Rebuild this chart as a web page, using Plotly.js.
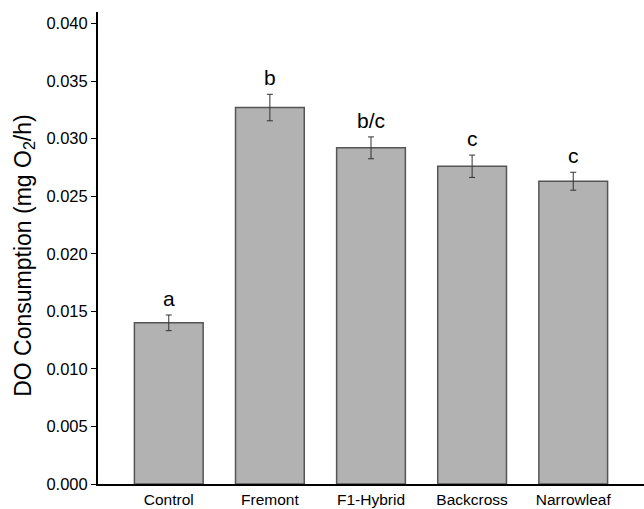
<!DOCTYPE html>
<html>
<head>
<meta charset="utf-8">
<script src="https://cdn.plot.ly/plotly-3.0.1.min.js"></script>
<style>html,body{margin:0;padding:0;background:#fff;}#chart{width:644px;height:509px;}</style>
</head>
<body>
<div id="chart"></div>
<script>
const categories = ["Control", "Fremont", "F1-Hybrid", "Backcross", "Narrowleaf"];
const consumption = [0.0140, 0.0327, 0.0292, 0.0276, 0.0263];
const stdErr = [0.00068, 0.00115, 0.00095, 0.00097, 0.00078];
const groupLetters = ["a", "b", "b/c", "c", "c"];
const yTickVals = [0, 0.005, 0.010, 0.015, 0.020, 0.025, 0.030, 0.035, 0.040];
const yTitle = "DO Consumption (mg O<sub>2</sub>/h)";

const font = "Arial, 'Liberation Sans', sans-serif";

const trace = {
  type: "bar",
  x: categories,
  y: consumption,
  width: 0.68,
  marker: {color: "#b2b2b2", line: {color: "#555555", width: 1.5}},
  error_y: {type: "data", array: stdErr, visible: true, color: "#333333", thickness: 1, width: 3}
};

const annotations = categories.map((c, i) => ({
  x: c, y: consumption[i] + stdErr[i], xref: "x", yref: "y",
  text: groupLetters[i], showarrow: false, yanchor: "bottom", yshift: 3,
  font: {family: font, size: 21, color: "#000"}
}));

annotations.push({
  xref: "paper", yref: "paper", x: -0.136, y: 0.485,
  xanchor: "center", yanchor: "middle",
  text: yTitle, textangle: -90, showarrow: false,
  font: {family: font, size: 23, color: "#000"}
});

const layout = {
  width: 644, height: 509,
  margin: {l: 98, r: 0, t: 12, b: 25},
  paper_bgcolor: "#fff", plot_bgcolor: "#fff",
  showlegend: false,
  font: {family: font, color: "#000"},
  xaxis: {
    type: "category", range: [-0.7, 4.7],
    showline: true, linecolor: "#000", linewidth: 2,
    ticks: "", showgrid: false, zeroline: false,
    tickfont: {family: font, size: 15.5, color: "#000"}
  },
  yaxis: {
    range: [0, 0.041], tickvals: yTickVals, tickformat: ".3f",
    showline: true, linecolor: "#000", linewidth: 2,
    ticks: "outside", ticklen: 5, tickwidth: 1, tickcolor: "#000",
    showgrid: false, zeroline: false,
    tickfont: {family: font, size: 16.5, color: "#000"}
  },
  annotations: annotations
};

Plotly.newPlot("chart", [trace], layout, {displayModeBar: false, staticPlot: true});
</script>
</body>
</html>
